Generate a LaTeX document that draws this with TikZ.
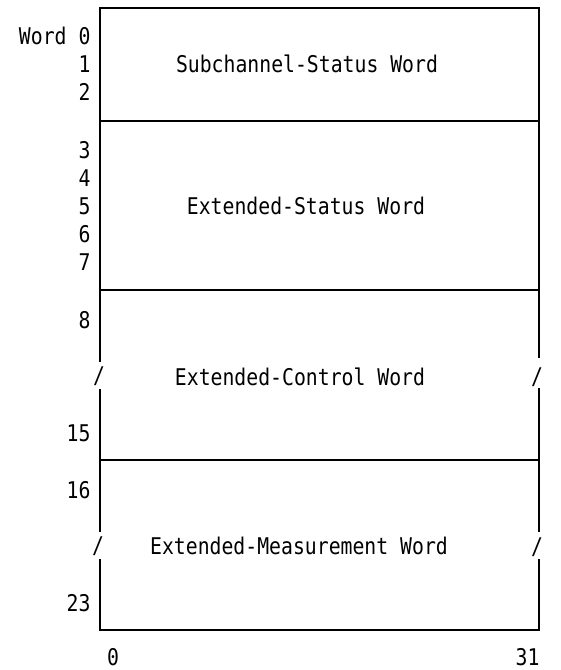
\documentclass[tikz,border=0pt]{standalone}
\usepackage{fontspec}
\setmonofont[FakeStretch=0.86]{DejaVu Sans Mono}

\begin{document}
\begin{tikzpicture}[x=1pt, y=-1pt, line width=1.1pt,
    lbl/.style={font=\ttfamily\fontsize{23}{28}\selectfont, inner sep=0pt, text height=17pt, text depth=0pt},
    num/.style={lbl, anchor=east}]
    \useasboundingbox (0,0) rectangle (561,670);
    % frame, broken where the slashes are
    \draw (100,362) -- (100,8) -- (539,8) -- (539,358);
    \draw (100,389) -- (100,532);
    \draw (539,388) -- (539,532);
    \draw (100,559) -- (100,630) -- (539,630) -- (539,559);
    \draw (100,121) -- (539,121);
    \draw (100,290) -- (539,290);
    \draw (100,460) -- (539,460);
    % slashes
    \node[lbl] (slA) at (99,375) {/};
    \node[lbl] (slB) at (537,376) {/};
    \node[lbl] (slC) at (98,545) {/};
    \node[lbl] (slD) at (537,546) {/};
    % word numbers
    \node[num] (w0) at (91,36) {Word 0};
    \node[num] (w1) at (91,64) {1};
    \node[num] (w2) at (91,92) {2};
    \node[num] (w3) at (91,150) {3};
    \node[num] (w4) at (91,178) {4};
    \node[num] (w5) at (91,206) {5};
    \node[num] (w6) at (91,234) {6};
    \node[num] (w7) at (91,262) {7};
    \node[num] (w8) at (91,320) {8};
    \node[num] (w15) at (91,433) {15};
    \node[num] (w16) at (91,490) {16};
    \node[num] (w23) at (91,603) {23};
    % bit numbers
    \node[lbl] (b0) at (113,657) {0};
    \node[lbl, anchor=east] (b31) at (540,657) {31};
    % fields
    \node[lbl] (scsw) at (307,64) {Subchannel-Status Word};
    \node[lbl] (esw) at (306,206) {Extended-Status Word};
    \node[lbl] (ecw) at (300,377) {Extended-Control Word};
    \node[lbl] (emw) at (299,546) {Extended-Measurement Word};
\end{tikzpicture}
\end{document}
